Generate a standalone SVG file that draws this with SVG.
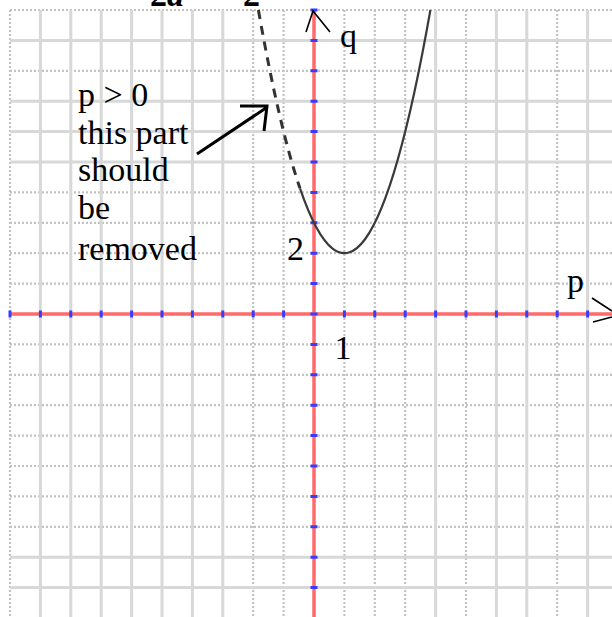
<svg xmlns="http://www.w3.org/2000/svg" width="612" height="617" viewBox="0 0 612 617">
<style>
.gs{stroke:#d8d8d8;stroke-width:3;fill:none}
.gd{stroke:#c2c2c2;stroke-width:2.2;stroke-dasharray:2 2;fill:none}
.ax{stroke:#ff6a6a;stroke-width:3.5;fill:none}
.tk{stroke:#3b3bff;stroke-width:3;fill:none}
.t{font-family:"Liberation Serif","Times New Roman",serif;font-size:34px;fill:#000}
.ah{stroke:#000;stroke-width:1.6;fill:none}
</style>
<rect x="0" y="0" width="612" height="617" fill="#fff"/>
<g id="grid">
<g class="gd"><path d="M10 10V617M253.2 10V617M283.6 10V617M344.4 10V617M374.8 10V617M405.2 10V617M466 10V617M557.2 10V617"/>
<path d="M10 10H612M10 70.8H612M10 192.4H612M10 222.8H612M10 253.2H612M10 283.6H612M10 344.4H612M10 374.8H612M10 405.2H612M10 435.6H612M10 466H612M10 496.4H612M10 526.8H612"/></g>
<g class="gs"><path d="M40.4 10V617M70.8 10V617M101.2 10V617M131.6 10V617M162 10V617M192.4 10V617M222.8 10V617M435.6 10V617M496.4 10V617M526.8 10V617M587.6 10V617"/>
<path d="M10 40.4H612M10 101.2H612M10 131.6H612M10 162H612M10 557.2H612M10 587.6H612"/></g>
</g>
<g id="axes">
<path class="ax" d="M314 10V617M10 314H612"/>
<path class="tk" d="M310.5 10h7M310.5 40.4h7M310.5 70.8h7M310.5 101.2h7M310.5 131.6h7M310.5 162h7M310.5 192.4h7M310.5 222.8h7M310.5 253.2h7M310.5 283.6h7M310.5 314h7M310.5 344.4h7M310.5 374.8h7M310.5 405.2h7M310.5 435.6h7M310.5 466h7M310.5 496.4h7M310.5 526.8h7M310.5 557.2h7M310.5 587.6h7"/>
<path class="tk" d="M10 310.5v7M40.4 310.5v7M70.8 310.5v7M101.2 310.5v7M131.6 310.5v7M162 310.5v7M192.4 310.5v7M222.8 310.5v7M253.2 310.5v7M283.6 310.5v7M344.4 310.5v7M374.8 310.5v7M405.2 310.5v7M435.6 310.5v7M466 310.5v7M496.4 310.5v7M526.8 310.5v7M557.2 310.5v7M587.6 310.5v7"/>
<path class="ah" d="M306 32L313 11L330 32M592 298L612 311M593 322L612 317"/>
</g>
<g id="connectors">
<path id="curve-solid" d="M300 188.35Q365.2 378.8 430.4 10" stroke="#3a3a3a" stroke-width="2.2" fill="none"/>
<path id="curve-dashed" d="M258.4 10Q279.2 127.7 300 188.35" stroke="#333" stroke-width="3" stroke-dasharray="9 7" fill="none"/>
<path id="pointer" d="M197 154L266 108M240 106H267L264 131" stroke="#000" stroke-width="3" fill="none"/>
</g>
<g id="label-top">
<text class="t" x="150" y="6" font-weight="bold" font-size="38">2<tspan font-style="italic">a</tspan></text>
<text class="t" x="243" y="6" font-weight="bold" font-size="38">2</text>
</g>
<g id="note">
<text class="t" x="78" y="106">p &gt; 0</text>
<text class="t" x="78" y="144">this part</text>
<text class="t" x="78" y="181">should</text>
<text class="t" x="78" y="219">be</text>
<text class="t" x="78" y="260">removed</text>
</g>
<g id="label-q"><text class="t" x="340" y="47" font-size="33">q</text></g>
<g id="label-p"><text class="t" x="567" y="292" font-size="33">p</text></g>
<g id="label-2"><text class="t" x="287" y="260">2</text></g>
<g id="label-1"><text class="t" x="343" y="359" text-anchor="middle">1</text></g>
</svg>
